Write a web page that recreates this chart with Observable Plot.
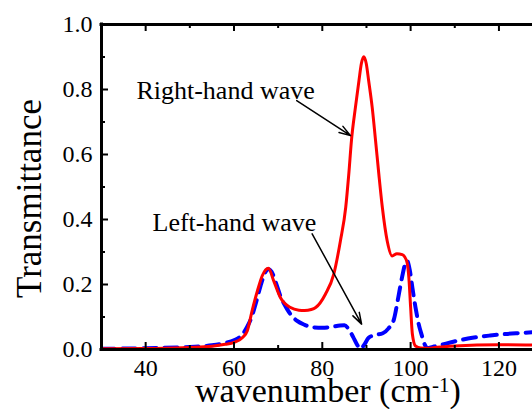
<!DOCTYPE html>
<html><head><meta charset="utf-8">
<script src="https://cdn.jsdelivr.net/npm/d3@7"></script>
<script src="https://cdn.jsdelivr.net/npm/@observablehq/plot@0.6"></script>
<style>body{margin:0;background:#fff} svg text{font-family:'Liberation Serif','Times New Roman',serif;}</style>
</head><body><div id="chart"></div>
<script>
// Right-hand wave (red solid)
const rightX = [30, 40, 50, 55, 58, 60, 62, 63, 64.1, 65.3, 66.4, 67.8, 69.0, 70.5, 72.8, 74.7, 76, 77.5, 78.5, 80.7, 82.6, 84.1, 85.3, 86.0, 86.6, 87.5, 88.3, 88.85, 89.4, 89.95, 90.5, 91.3, 92.06, 92.8, 93.6, 94.7, 95.8, 96.9, 98.1, 99.1, 99.6, 100.0, 100.4, 101.1, 102.3, 104, 106, 110, 115, 120, 127.6];
const rightY = [0.002, 0.003, 0.006, 0.010, 0.016, 0.022, 0.038, 0.057, 0.119, 0.180, 0.227, 0.250, 0.211, 0.160, 0.129, 0.121, 0.120, 0.123, 0.129, 0.170, 0.232, 0.334, 0.437, 0.540, 0.643, 0.745, 0.827, 0.880, 0.901, 0.880, 0.827, 0.745, 0.643, 0.540, 0.437, 0.334, 0.288, 0.295, 0.292, 0.273, 0.221, 0.130, 0.047, 0.011, 0.005, 0.004, 0.007, 0.011, 0.014, 0.015, 0.014];
// Left-hand wave (blue dashed)
const leftX = [30, 40, 50, 55, 58, 60, 62, 63, 64, 65, 66, 67, 67.8, 68.5, 69.5, 70.5, 72, 73, 74.3, 76, 78, 80, 82, 84, 85, 86, 87, 88, 88.7, 89.5, 90.5, 92, 93.7, 95, 96.2, 97.2, 98.1, 98.8, 99.2, 99.8, 100.4, 101.1, 101.8, 102.5, 103.2, 103.8, 105, 108, 111, 114, 118, 121, 124, 127.6];
const leftY = [0.002, 0.004, 0.008, 0.013, 0.020, 0.028, 0.048, 0.070, 0.100, 0.145, 0.195, 0.235, 0.248, 0.240, 0.205, 0.165, 0.125, 0.105, 0.088, 0.076, 0.068, 0.067, 0.069, 0.074, 0.075, 0.062, 0.038, 0.012, 0.002, 0.015, 0.036, 0.045, 0.050, 0.065, 0.092, 0.160, 0.225, 0.265, 0.273, 0.245, 0.190, 0.130, 0.080, 0.045, 0.015, 0.004, 0.008, 0.018, 0.028, 0.036, 0.043, 0.047, 0.050, 0.053];

const xMajor = [40, 60, 80, 100, 120];
const xMinor = [50, 70, 90, 110];
const yMajor = [0, 0.2, 0.4, 0.6, 0.8, 1.0];
const yMinor = [0.1, 0.3, 0.5, 0.7, 0.9];

const labelText = ["Right-hand wave", "Left-hand wave"];
const labelX = [58.1, 60.1];
const labelY = [0.796, 0.39];
const arrowX1 = [74.2, 77.7];
const arrowY1 = [0.766, 0.356];
const arrowX2 = [86.4, 88.9];
const arrowY2 = [0.658, 0.078];

const right = rightX.map((x, i) => ({x, y: rightY[i]}));
const left = leftX.map((x, i) => ({x, y: leftY[i]}));
const labels = labelText.map((t, i) => ({t, x: labelX[i], y: labelY[i]}));
const arrows = arrowX1.map((x1, i) => ({x1, y1: arrowY1[i], x2: arrowX2[i], y2: arrowY2[i]}));

const W = 532, H = 409, mL = 101, mT = 24, mB = 60, mR = 0;
const ph = H - mT - mB, pw = W - mL - mR;
const majLen = 7, minLen = 4;
const serif = "'Liberation Serif', 'Times New Roman', serif";

const svg = Plot.plot({
  width: W, height: H,
  marginLeft: mL, marginTop: mT, marginBottom: mB, marginRight: mR,
  style: {fontFamily: serif, fontSize: "24px", background: "white", color: "black"},
  x: {domain: [30, 127.6]},
  y: {domain: [0, 1]},
  marks: [
    Plot.line(left, {x: "x", y: "y", stroke: "#0000ff", strokeWidth: 4, strokeDasharray: "13,8", curve: "monotone-x", clip: true}),
    Plot.line(right, {x: "x", y: "y", stroke: "#ff0000", strokeWidth: 3, curve: "monotone-x", clip: true}),
    Plot.tickX(xMajor, {x: d => d, insetTop: ph - majLen, strokeWidth: 2}),
    Plot.tickX(xMajor, {x: d => d, insetBottom: ph - majLen, strokeWidth: 2}),
    Plot.tickX(xMinor, {x: d => d, insetTop: ph - minLen, strokeWidth: 2}),
    Plot.tickX(xMinor, {x: d => d, insetBottom: ph - minLen, strokeWidth: 2}),
    Plot.tickY(yMajor, {y: d => d, insetRight: pw - majLen, strokeWidth: 2}),
    Plot.tickY(yMinor, {y: d => d, insetRight: pw - minLen, strokeWidth: 2}),
    Plot.ruleY([0, 1], {strokeWidth: 3, strokeLinecap: "square"}),
    Plot.ruleX([30], {strokeWidth: 3, strokeLinecap: "square"}),
    Plot.axisX(xMajor, {tickSize: 0, tickPadding: 9, label: null, fontSize: 24, fontFamily: serif, fontVariant: "normal"}),
    Plot.axisY(yMajor, {tickSize: 0, tickPadding: 9, label: null, fontSize: 24, fontFamily: serif, fontVariant: "normal", tickFormat: d => d.toFixed(1)}),
    Plot.arrow(arrows, {x1: "x1", y1: "y1", x2: "x2", y2: "y2", stroke: "black", strokeWidth: 1.5, headLength: 12, headAngle: 35, bend: false}),
    Plot.text(labels, {x: "x", y: "y", text: "t", fontSize: 26, fontFamily: serif, fill: "black"})
  ]
});

const s = d3.select(svg);
s.append("text")
  .attr("transform", "translate(41,198.5) rotate(-90)")
  .attr("text-anchor", "middle")
  .style("font-size", "35px")
  .style("font-family", serif)
  .attr("fill", "black")
  .text("Transmittance");
const xt = s.append("text")
  .attr("x", 195).attr("y", 402)
  .attr("text-anchor", "start")
  .style("font-size", "34px")
  .style("font-family", serif)
  .attr("fill", "black");
xt.append("tspan").text("wavenumber (cm");
xt.append("tspan").attr("dy", -10).style("font-size", "21px").text("-1");
xt.append("tspan").attr("dy", 10).style("font-size", "34px").text(")");

document.getElementById("chart").appendChild(svg);
</script>
</body></html>
